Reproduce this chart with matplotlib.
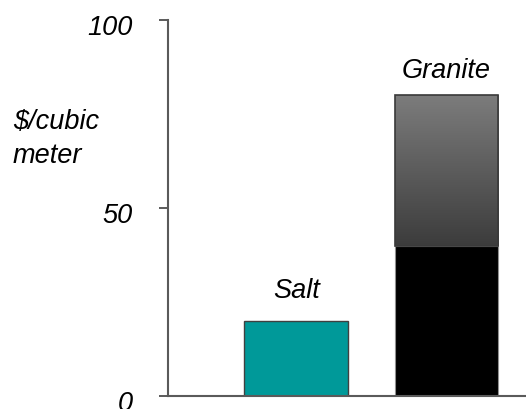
import matplotlib.pyplot as plt
import matplotlib.transforms as mtransforms
import numpy as np
from matplotlib.colors import LinearSegmentedColormap

plt.rcParams['font.family'] = ['Liberation Sans', 'DejaVu Sans']

categories = ['Salt', 'Granite']
salt_cost = [20]
granite_low = [40]
granite_high = [80]
y_ticks = [0, 50, 100]

fig = plt.figure(figsize=(5.26, 4.10), dpi=100)
ax = fig.add_axes([168 / 526, 13 / 410, (526 - 168) / 526, (397 - 21) / 410])

x = np.arange(len(categories))
w = 0.69
fs = 19.5

# salt: one solid teal bar
ax.bar(x[0], salt_cost[0], width=w, color='#009999', edgecolor='#404040', linewidth=1, zorder=2)

# granite: black lower part, shaded range up to the high estimate
ax.bar(x[1], granite_low[0], width=w, color='black', edgecolor='#909090', linewidth=0.8, zorder=2)
upper = ax.bar(x[1], granite_high[0] - granite_low[0], bottom=granite_low[0], width=w,
               color='none', edgecolor='#3a3a3a', linewidth=1.2, zorder=3)[0]
cmap = LinearSegmentedColormap.from_list('shade', ['#3c3c3c', '#7c7c7c'])
grad = np.linspace(0, 1, 256).reshape(-1, 1)
img = ax.imshow(grad, cmap=cmap, origin='lower', aspect='auto', zorder=2,
                extent=[x[1] - w / 2, x[1] + w / 2, granite_low[0], granite_high[0]])
img.set_clip_path(upper)

# category labels above the bars
ax.text(x[0], salt_cost[0] + 6.3, categories[0], ha='center', va='baseline',
        fontsize=fs, style='italic')
ax.text(x[1], granite_high[0] + 4.8, categories[1], ha='center', va='baseline',
        fontsize=fs, style='italic')

ax.set_xlim(-0.853, 1.53)
ax.set_ylim(0, 100)
ax.set_yticks(y_ticks)
ax.set_yticklabels([str(t) for t in y_ticks], fontsize=fs, style='italic')
ax.tick_params(axis='y', length=6.5, width=1.2, color='#404040', pad=19)
ax.set_xticks([])

# tick labels sit a little below their ticks
shift = mtransforms.ScaledTranslation(0, -4 / 100, fig.dpi_scale_trans)
for lab in ax.get_yticklabels():
    lab.set_transform(lab.get_transform() + shift)

for side in ['top', 'right']:
    ax.spines[side].set_visible(False)
for side in ['left', 'bottom']:
    ax.spines[side].set_color('#5a5a5a')
    ax.spines[side].set_linewidth(1.5)

fig.text(13 / 526, 1 - 129 / 410, '\\$/cubic', fontsize=fs, style='italic',
         ha='left', va='baseline')
fig.text(13 / 526, 1 - 163 / 410, 'meter', fontsize=fs, style='italic',
         ha='left', va='baseline')

fig.savefig('out.png', dpi=100)
